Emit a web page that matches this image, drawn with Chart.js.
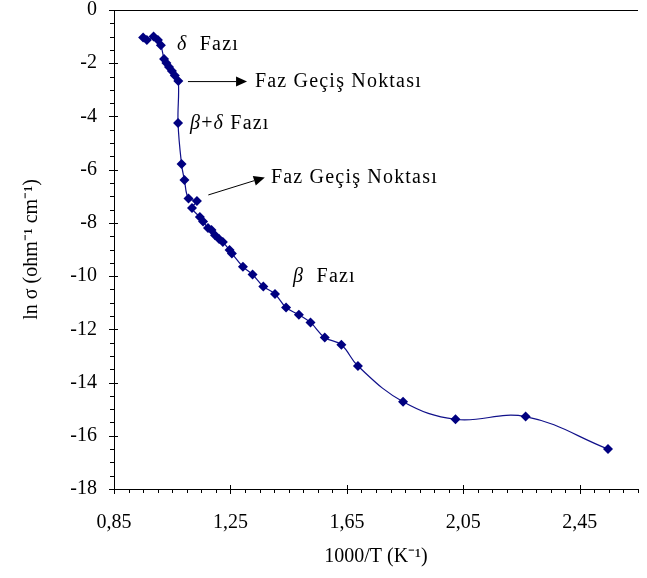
<!DOCTYPE html>
<html>
<head>
<meta charset="utf-8">
<script src="https://cdn.jsdelivr.net/npm/chart.js@4/dist/chart.umd.min.js"></script>
<style>
html, body { margin: 0; padding: 0; background: #fff; }
</style>
</head>
<body>
<canvas id="mycanvas" width="647" height="578"></canvas>
<script>
// 1000/T (K^-1)
var invT = [0.950, 0.963, 0.986, 1.001, 1.011, 1.022, 1.030, 1.039, 1.049, 1.059,
            1.071, 1.070, 1.082, 1.092, 1.106, 1.135, 1.118, 1.145, 1.156, 1.173,
            1.185, 1.197, 1.211, 1.224, 1.247, 1.255, 1.293, 1.326, 1.363, 1.403,
            1.441, 1.485, 1.525, 1.574, 1.631, 1.688, 1.843, 2.023, 2.264, 2.547];
// ln sigma (ohm^-1 cm^-1)
var lnSigma = [-1.03, -1.13, -1.00, -1.13, -1.32, -1.84, -1.99, -2.14, -2.29, -2.46,
               -2.67, -4.25, -5.79, -6.39, -7.08, -7.18, -7.44, -7.78, -7.95, -8.19,
               -8.27, -8.46, -8.61, -8.72, -9.02, -9.15, -9.65, -9.94, -10.39, -10.67,
               -11.18, -11.45, -11.74, -12.31, -12.58, -13.38, -14.72, -15.38, -15.28, -16.50];

var xTicks = [0.85, 1.25, 1.65, 2.05, 2.45];
var yTicks = [0, -2, -4, -6, -8, -10, -12, -14, -16, -18];

var phaseText = ["δ  Fazı", "Faz Geçiş Noktası", "β+δ Fazı", "Faz Geçiş Noktası", "β  Fazı"];

var serif = "'Liberation Serif', 'Times New Roman', serif";

var points = [];
for (var i = 0; i < invT.length; i++) {
	points.push({x: invT[i], y: lnSigma[i]});
}

// draws text, greek letters in italic
function drawMixed(ctx, text, x, y, size) {
	var cx = x;
	for (var k = 0; k < text.length; k++) {
		var ch = text[k];
		var greek = /[\u03b1-\u03c9]/.test(ch);
		ctx.font = (greek ? "italic " : "") + size + "px " + serif;
		ctx.fillText(ch, cx, y);
		cx += ctx.measureText(ch).width + 1.2;
	}
}

function arrow(ctx, x1, y1, x2, y2) {
	var a = Math.atan2(y2 - y1, x2 - x1);
	var hl = 11, hw = 5;
	var bx = x2 - hl * Math.cos(a), by = y2 - hl * Math.sin(a);
	ctx.beginPath();
	ctx.moveTo(x1, y1);
	ctx.lineTo(bx, by);
	ctx.stroke();
	ctx.beginPath();
	ctx.moveTo(x2, y2);
	ctx.lineTo(bx + hw * Math.sin(a), by - hw * Math.cos(a));
	ctx.lineTo(bx - hw * Math.sin(a), by + hw * Math.cos(a));
	ctx.closePath();
	ctx.fill();
}

var decor = {
	id: "decor",
	afterDraw: function(chart) {
		var ctx = chart.ctx;
		var xs = chart.scales.x, ys = chart.scales.y;
		var area = chart.chartArea;
		ctx.save();
		ctx.strokeStyle = "#000";
		ctx.fillStyle = "#000";
		ctx.lineWidth = 1;

		// tick marks, major ones cross the axis
		ctx.beginPath();
		for (var i = 0; i <= 36; i++) {
			var px = Math.round(xs.getPixelForValue(0.85 + i * 0.05)) + 0.5;
			if (i % 8 == 0) { ctx.moveTo(px, area.bottom - 4); ctx.lineTo(px, area.bottom + 5); }
			else { ctx.moveTo(px, area.bottom); ctx.lineTo(px, area.bottom + 4); }
		}
		for (var j = 0; j <= 36; j++) {
			var py = Math.round(ys.getPixelForValue(-j * 0.5)) + 0.5;
			if (j % 4 == 0) { ctx.moveTo(area.left - 5, py); ctx.lineTo(area.left + 4, py); }
			else { ctx.moveTo(area.left - 4, py); ctx.lineTo(area.left, py); }
		}
		// top edge of the plot
		ctx.moveTo(area.left, Math.round(area.top) + 0.5);
		ctx.lineTo(area.right, Math.round(area.top) + 0.5);
		ctx.stroke();

		// phase labels and arrows
		ctx.textBaseline = "middle";
		ctx.textAlign = "left";
		drawMixed(ctx, phaseText[0], xs.getPixelForValue(1.066), ys.getPixelForValue(-1.32), 20);
		arrow(ctx, xs.getPixelForValue(1.104), ys.getPixelForValue(-2.69),
			xs.getPixelForValue(1.307), ys.getPixelForValue(-2.69));
		drawMixed(ctx, phaseText[1], xs.getPixelForValue(1.334), ys.getPixelForValue(-2.69), 20);
		drawMixed(ctx, phaseText[2], xs.getPixelForValue(1.111), ys.getPixelForValue(-4.28), 20);
		arrow(ctx, xs.getPixelForValue(1.174), ys.getPixelForValue(-6.95),
			xs.getPixelForValue(1.368), ys.getPixelForValue(-6.29));
		drawMixed(ctx, phaseText[3], xs.getPixelForValue(1.389), ys.getPixelForValue(-6.29), 20);
		drawMixed(ctx, phaseText[4], xs.getPixelForValue(1.465), ys.getPixelForValue(-10.03), 20);
		ctx.restore();
	}
};

var tickFont = {family: serif, size: 20};

var ctx = document.getElementById("mycanvas");
var chart = new Chart(ctx, {
	type: "scatter",
	data: {
		datasets: [{
			label: "ln sigma",
			data: points,
			showLine: true,
			tension: 0.4,
			borderColor: "#10108a",
			borderWidth: 1.2,
			pointStyle: "rectRot",
			pointRadius: 5,
			pointBorderWidth: 0,
			pointBackgroundColor: "#000080",
			pointBorderColor: "#000080"
		}]
	},
	options: {
		responsive: false,
		animation: false,
		devicePixelRatio: 1,
		layout: {padding: {top: 10, right: 9, left: 0, bottom: 0}},
		plugins: {legend: {display: false}, tooltip: {enabled: false}},
		scales: {
			x: {
				type: "linear",
				min: 0.85,
				max: 2.65,
				afterBuildTicks: function(s) { s.ticks = xTicks.map(function(v) { return {value: v}; }); },
				afterFit: function(s) { s.height = 89; s.paddingLeft = 0; s.paddingRight = 0; },
				ticks: {
					autoSkip: false,
					maxRotation: 0,
					padding: 22,
					color: "#000",
					font: tickFont,
					callback: function(v) { return v.toFixed(2).replace(".", ","); }
				},
				grid: {display: false, drawTicks: false},
				border: {display: true, color: "#000", width: 1},
				title: {display: true, text: "1000/T (K⁻¹)", color: "#000", font: tickFont, padding: {top: 0, bottom: 9}}
			},
			y: {
				type: "linear",
				min: -18,
				max: 0,
				afterBuildTicks: function(s) { s.ticks = yTicks.map(function(v) { return {value: v}; }); },
				afterFit: function(s) { s.width = 114; s.paddingTop = 0; s.paddingBottom = 0; },
				ticks: {
					autoSkip: false,
					padding: 17,
					color: "#000",
					font: tickFont,
					callback: function(v) { return String(v); }
				},
				grid: {display: false, drawTicks: false},
				border: {display: true, color: "#000", width: 1},
				title: {display: true, text: "ln σ (ohm⁻¹ cm⁻¹)", color: "#000", font: tickFont, padding: {top: 20, bottom: 0}}
			}
		}
	},
	plugins: [decor]
});
</script>
</body>
</html>
